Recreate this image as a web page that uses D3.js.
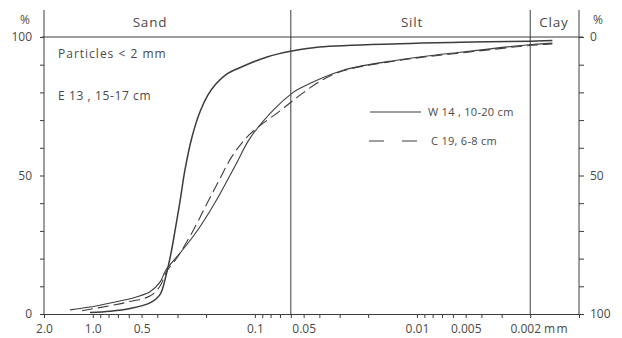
<!DOCTYPE html>
<html>
<head>
<meta charset="utf-8">
<script src="https://cdn.jsdelivr.net/npm/d3@7/dist/d3.min.js"></script>
<style>
  html, body { margin: 0; padding: 0; background: #fff; }
  svg text { font-family: "Open Sans", "DejaVu Sans", sans-serif; fill: #4a4a4a; }
</style>
</head>
<body>
<svg id="chart" width="622" height="338"></svg>
<script>
// Grain-size distribution (cumulative % finer than a given diameter, mm)
const sizeTickLabels = ["2.0", "1.0", "0.5", "0.1", "0.05", "0.01", "0.005", "0.002"];
const sizeTickValues = [2, 1, 0.5, 0.1, 0.05, 0.01, 0.005, 0.002];
const sizeMinorTicks = [2, 1, 0.9, 0.8, 0.7, 0.6, 0.5, 0.4, 0.3, 0.2, 0.1, 0.09, 0.08, 0.07, 0.06, 0.05,
  0.04, 0.03, 0.02, 0.01, 0.009, 0.008, 0.007, 0.006, 0.005, 0.004, 0.003, 0.002];
const pctTicks = [0, 10, 20, 30, 40, 50, 60, 70, 80, 90, 100];
const fractionNames = ["Sand", "Silt", "Clay"];
const fractionBounds = [0.06, 0.002];

// E 13, 15-17 cm
const e13Size = [1.04, 0.78, 0.59, 0.444, 0.385, 0.353, 0.329, 0.311, 0.289, 0.270, 0.244, 0.218, 0.195, 0.174, 0.150, 0.123, 0.084, 0.058, 0.040, 0.0127, 0.0054, 0.00197, 0.00146];
const e13Pct  = [0.5, 1.0, 2.0, 4.0, 7.0, 14, 22, 30, 41, 52, 64, 73, 79, 83, 86.5, 89, 92.8, 95, 96.4, 97.6, 98.1, 98.5, 98.7];
// W 14, 10-20 cm
const w14Size = [1.38, 1.04, 0.78, 0.59, 0.444, 0.385, 0.353, 0.32, 0.263, 0.218, 0.19, 0.171, 0.155, 0.131, 0.107, 0.077, 0.058, 0.0526, 0.0285, 0.0127, 0.0054, 0.00197, 0.00146];
const w14Pct  = [1.5, 2.5, 4.0, 5.5, 8.0, 11.5, 16, 19, 25, 31.5, 37, 41.5, 46, 54, 63.5, 73.6, 80, 81.5, 88, 91.8, 94.5, 97.3, 97.8];
// C 19, 6-8 cm
const c19Size = [1.165, 0.783, 0.589, 0.444, 0.385, 0.353, 0.30, 0.243, 0.197, 0.167, 0.138, 0.107, 0.069, 0.0526, 0.0396, 0.0285, 0.0127, 0.0054, 0.00197, 0.00146];
const c19Pct  = [1.2, 3.0, 4.5, 6.5, 10, 15, 20.6, 29.6, 40, 48, 57, 65, 73.6, 79, 84, 87.8, 91.6, 94.2, 97.0, 97.5];

const svg = d3.select("#chart");
const ink = "#3c3c3c";

const x = d3.scaleLog().domain([2, 0.001]).range([44, 579]);
const y = d3.scaleLinear().domain([0, 100]).range([314, 37]);
const yRight = d3.scaleLinear().domain([100, 0]).range([314, 37]);
const frameTop = 10;

// frame lines: left / right axes, fraction boundaries, 100 % line
const frame = svg.append("g").attr("stroke", ink).attr("stroke-width", 1).attr("fill", "none");
[x.range()[0], x.range()[1], ...fractionBounds.map(x)].forEach(px => {
  frame.append("line").attr("x1", px).attr("x2", px).attr("y1", frameTop).attr("y2", y(0));
});
frame.append("line").attr("x1", x.range()[0] - 2).attr("x2", x.range()[1] + 4)
  .attr("y1", y(100)).attr("y2", y(100));

// left axis
const leftAxis = svg.append("g").attr("transform", `translate(${x.range()[0]},0)`)
  .call(d3.axisLeft(y).tickValues(pctTicks).tickSize(4).tickPadding(8)
    .tickFormat(d => d % 50 === 0 ? d : ""));
// right axis
const rightAxis = svg.append("g").attr("transform", `translate(${x.range()[1]},0)`)
  .call(d3.axisRight(yRight).tickValues(pctTicks).tickSize(5).tickPadding(6)
    .tickFormat(d => d % 50 === 0 ? d : ""));
// bottom axis
const fmt = new Map(sizeTickValues.map((v, i) => [v, sizeTickLabels[i]]));
const bottomAxis = svg.append("g").attr("transform", `translate(0,${y(0)})`)
  .call(d3.axisBottom(x).tickValues(sizeMinorTicks).tickSize(4).tickPadding(6)
    .tickFormat(d => fmt.get(d) || ""));

[leftAxis, rightAxis, bottomAxis].forEach(g => {
  g.selectAll("path.domain").attr("stroke", ink);
  g.selectAll(".tick line").attr("stroke", ink);
  g.selectAll(".tick text").style("font-size", "12px").attr("fill", "#4a4a4a")
    .style("font-family", "'Open Sans', 'DejaVu Sans', sans-serif");
});
leftAxis.select("path.domain").remove();
rightAxis.select("path.domain").remove();
bottomAxis.selectAll(".tick text").filter(d => d === 0.002).attr("dx", -5);

// units
svg.append("text").attr("x", 25).attr("y", 24).attr("text-anchor", "middle").style("font-size", "12px").text("%");
svg.append("text").attr("x", 598).attr("y", 24).attr("text-anchor", "middle").style("font-size", "12px").text("%");
svg.append("text").attr("x", 544).attr("y", 333).style("font-size", "12px").style("letter-spacing", "1.5px").text("mm");

// fraction headers
const headerX = [150, 412, 554];
fractionNames.forEach((n, i) => {
  svg.append("text").attr("x", headerX[i]).attr("y", 27).attr("text-anchor", "middle")
    .style("font-size", "13.5px").style("letter-spacing", "0.8px").text(n);
});

// notes
svg.append("text").attr("x", 58).attr("y", 58).style("font-size", "12px").style("letter-spacing", "1px")
  .text("Particles  < 2 mm");
svg.append("text").attr("x", 58).attr("y", 100).style("font-size", "12px").style("letter-spacing", "0.6px")
  .text("E 13 , 15-17 cm");

// curves
const line = d3.line().x(d => x(d[0])).y(d => y(d[1])).curve(d3.curveCatmullRom.alpha(0.5));
const zip = (a, b) => a.map((v, i) => [v, b[i]]);
const series = [
  { size: e13Size, pct: e13Pct, width: 1.5, dash: null },
  { size: w14Size, pct: w14Pct, width: 1.1, dash: null },
  { size: c19Size, pct: c19Pct, width: 1.1, dash: "11,5" }
];
svg.append("g").selectAll("path").data(series).join("path")
  .attr("d", s => line(zip(s.size, s.pct)))
  .attr("fill", "none").attr("stroke", ink)
  .attr("stroke-width", s => s.width)
  .attr("stroke-dasharray", s => s.dash);

// legend
const legend = svg.append("g");
legend.append("line").attr("x1", 370).attr("x2", 421).attr("y1", 112).attr("y2", 112)
  .attr("stroke", ink).attr("stroke-width", 1.1);
legend.append("text").attr("x", 428).attr("y", 116).style("font-size", "11px").style("letter-spacing", "0.3px")
  .text("W 14 , 10-20 cm");
legend.append("line").attr("x1", 369).attr("x2", 421).attr("y1", 141).attr("y2", 141)
  .attr("stroke", ink).attr("stroke-width", 1.1).attr("stroke-dasharray", "15,18");
legend.append("text").attr("x", 431).attr("y", 145).style("font-size", "11px").style("letter-spacing", "0.3px")
  .text("C 19,  6-8 cm");
</script>
</body>
</html>
